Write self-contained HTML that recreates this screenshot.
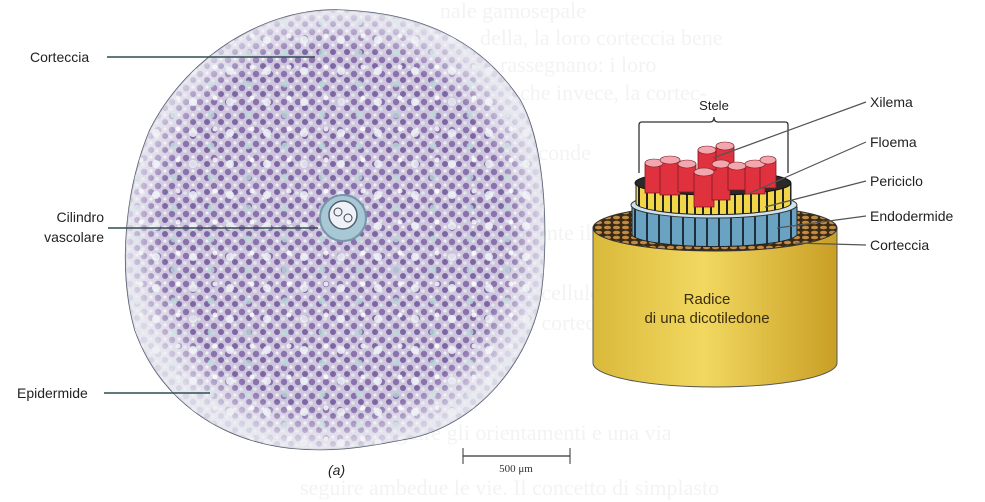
<!DOCTYPE html>
<html><head><meta charset="utf-8"><style>
html,body{margin:0;padding:0;background:#fff}
body{width:985px;height:502px;overflow:hidden;position:relative;font-family:"Liberation Sans",sans-serif}
svg{position:absolute;left:0;top:0}
</style></head><body>
<svg width="985" height="502" viewBox="0 0 985 502">
<defs>
<pattern id="cells" width="14" height="14" patternUnits="userSpaceOnUse">
<rect width="14" height="14" fill="#cfc6de"/>
<circle cx="4" cy="4" r="3.2" fill="#8a72ad"/>
<circle cx="11" cy="10" r="3" fill="#7c66a3"/>
<circle cx="11" cy="3" r="1.6" fill="#eef0f5"/>
<circle cx="3" cy="11" r="1.8" fill="#dfe6ee"/>
</pattern>
<pattern id="spots" width="37" height="31" patternUnits="userSpaceOnUse">
<circle cx="8" cy="9" r="4" fill="#eef2f6" opacity="0.85"/>
<circle cx="26" cy="22" r="3.5" fill="#b9d6d8" opacity="0.8"/>
<circle cx="30" cy="5" r="2.5" fill="#ffffff" opacity="0.8"/>
</pattern>
<radialGradient id="edge" cx="50%" cy="50%" r="50%">
<stop offset="82%" stop-color="#fff" stop-opacity="0"/>
<stop offset="100%" stop-color="#eef0f4" stop-opacity="0.8"/>
</radialGradient>
<linearGradient id="ybody" x1="0" x2="1">
<stop offset="0" stop-color="#d9b93a"/><stop offset="0.45" stop-color="#f2d860"/><stop offset="1" stop-color="#c99f25"/>
</linearGradient>
<pattern id="brown" width="9" height="5" patternUnits="userSpaceOnUse">
<rect width="9" height="5" fill="#3a2a14"/><ellipse cx="4.5" cy="2.5" rx="3.6" ry="1.8" fill="#c08a45"/>
</pattern>
<pattern id="stripesY" width="8" height="30" patternUnits="userSpaceOnUse">
<rect width="8" height="30" fill="#f2d64a"/><rect x="6" width="2" height="30" fill="#222"/>
</pattern>
<pattern id="stripesB" width="12" height="40" patternUnits="userSpaceOnUse">
<rect width="12" height="40" fill="#6aa2c2"/><rect x="10" width="2" height="40" fill="#1d2f3c"/>
</pattern>
</defs>

<g fill="#f3f3f3" font-family="Liberation Serif,serif" font-size="22">
<text x="440" y="18">nale gamosepale</text>
<text x="480" y="45">della, la loro corteccia bene</text>
<text x="500" y="72">rassegnano: i loro</text>
<text x="520" y="100">che invece, la cortec-</text>
<text x="520" y="160">seconde</text>
<text x="520" y="240">mente il</text>
<text x="520" y="300">le cellule</text>
<text x="520" y="330">le cortecali</text>
<text x="300" y="440">possono seguire gli orientamenti e una via</text>
<text x="300" y="495">seguire ambedue le vie. Il concetto di simplasto</text>
</g>

<g>
<path id="blob" d="M335,10 C420,12 480,40 520,100 C548,150 548,250 540,300 C525,370 470,430 400,440 C360,448 330,452 290,448 C220,440 160,400 135,330 C118,270 125,190 150,130 C185,60 260,10 335,10 Z" fill="url(#cells)" stroke="#555a70" stroke-width="1.5"/>
<path d="M335,10 C420,12 480,40 520,100 C548,150 548,250 540,300 C525,370 470,430 400,440 C360,448 330,452 290,448 C220,440 160,400 135,330 C118,270 125,190 150,130 C185,60 260,10 335,10 Z" fill="url(#spots)"/>
<path d="M335,10 C420,12 480,40 520,100 C548,150 548,250 540,300 C525,370 470,430 400,440 C360,448 330,452 290,448 C220,440 160,400 135,330 C118,270 125,190 150,130 C185,60 260,10 335,10 Z" fill="url(#edge)"/>
<circle cx="343" cy="218" r="23" fill="#a9c8d6" stroke="#7896ab" stroke-width="2"/>
<circle cx="343" cy="215" r="14" fill="#eef2f6" stroke="#506070" stroke-width="1.5"/>
<circle cx="338" cy="212" r="4" fill="none" stroke="#445" /><circle cx="348" cy="218" r="4" fill="none" stroke="#445"/>
</g>
<g font-size="14" fill="#222">
<text x="30" y="62">Corteccia</text>
<line x1="107" y1="57" x2="315" y2="57" stroke="#2f4f4f" stroke-width="1.5"/>
<text x="104" y="222" text-anchor="end">Cilindro</text>
<text x="104" y="242" text-anchor="end">vascolare</text>
<line x1="108" y1="228" x2="318" y2="228" stroke="#2f4f4f" stroke-width="1.5"/>
<text x="17" y="398">Epidermide</text>
<line x1="104" y1="393" x2="210" y2="393" stroke="#2f4f4f" stroke-width="1.5"/>
<text x="328" y="475" font-style="italic">(a)</text>
</g>
<g>
<line x1="463" y1="456" x2="570" y2="456" stroke="#333" stroke-width="1.2"/>
<line x1="463" y1="448" x2="463" y2="464" stroke="#333"/><line x1="570" y1="448" x2="570" y2="464" stroke="#333"/>
<text x="516" y="472" text-anchor="middle" font-family="Liberation Serif,serif" font-size="11" fill="#333">500 μm</text>
</g>

<g>
<path d="M593,228 L593,363 A122,24 0 0 0 837,363 L837,228 Z" fill="url(#ybody)" stroke="#555"/>
<ellipse cx="715" cy="228" rx="122" ry="23" fill="url(#brown)" stroke="#333"/>
<path d="M632,207 L632,235 A83,13 0 0 0 797,235 L797,207 Z" fill="url(#stripesB)" stroke="#222"/>
<ellipse cx="714" cy="205" rx="83" ry="13" fill="#cfe3ee" stroke="#333"/>
<path d="M636,184 L636,204 A78,12 0 0 0 791,204 L791,184 Z" fill="url(#stripesY)" stroke="#222"/>
<ellipse cx="713" cy="183" rx="78" ry="12" fill="#2a2a2a" stroke="#111"/>
<g fill="#e0323e" stroke="#7a1a20" stroke-width="0.8">
<rect x="645" y="163" width="18" height="30"/><rect x="660" y="160" width="20" height="35"/>
<rect x="678" y="164" width="18" height="28"/><rect x="694" y="172" width="20" height="35"/>
<rect x="712" y="164" width="18" height="36"/><rect x="728" y="166" width="18" height="24"/>
<rect x="745" y="164" width="20" height="30"/><rect x="760" y="160" width="16" height="28"/>
<rect x="698" y="150" width="18" height="20"/><rect x="716" y="146" width="18" height="20"/>
</g>
<g fill="#f2a6ae" stroke="#7a1a20" stroke-width="0.6">
<ellipse cx="654" cy="163" rx="9" ry="4"/><ellipse cx="670" cy="160" rx="10" ry="4"/><ellipse cx="687" cy="164" rx="9" ry="4"/>
<ellipse cx="704" cy="172" rx="10" ry="4"/><ellipse cx="721" cy="164" rx="9" ry="4"/><ellipse cx="737" cy="166" rx="9" ry="4"/>
<ellipse cx="755" cy="164" rx="10" ry="4"/><ellipse cx="768" cy="160" rx="8" ry="4"/>
<ellipse cx="707" cy="150" rx="9" ry="4"/><ellipse cx="725" cy="146" rx="9" ry="4"/>
</g>
<path d="M639,173 L639,125 Q639,122 642,122 L710,122 Q714,122 714,117 Q714,122 718,122 L785,122 Q788,122 788,125 L788,173" fill="none" stroke="#333" stroke-width="1.3"/>
<text x="714" y="110" text-anchor="middle" font-size="13" fill="#222">Stele</text>
<text x="707" y="304" text-anchor="middle" font-size="15" fill="#3a2e10">Radice</text>
<text x="707" y="323" text-anchor="middle" font-size="15" fill="#3a2e10">di una dicotiledone</text>
</g>
<g font-size="14" fill="#222" stroke-width="1.2">
<line x1="866" y1="102" x2="713" y2="158" stroke="#555"/><text x="870" y="107">Xilema</text>
<line x1="866" y1="142" x2="750" y2="193" stroke="#555"/><text x="870" y="147">Floema</text>
<line x1="866" y1="181" x2="765" y2="207" stroke="#555"/><text x="870" y="186">Periciclo</text>
<line x1="866" y1="216" x2="777" y2="228" stroke="#555"/><text x="870" y="221">Endodermide</text>
<line x1="866" y1="245" x2="795" y2="243" stroke="#555"/><text x="870" y="250">Corteccia</text>
</g>
</svg>
</body></html>
